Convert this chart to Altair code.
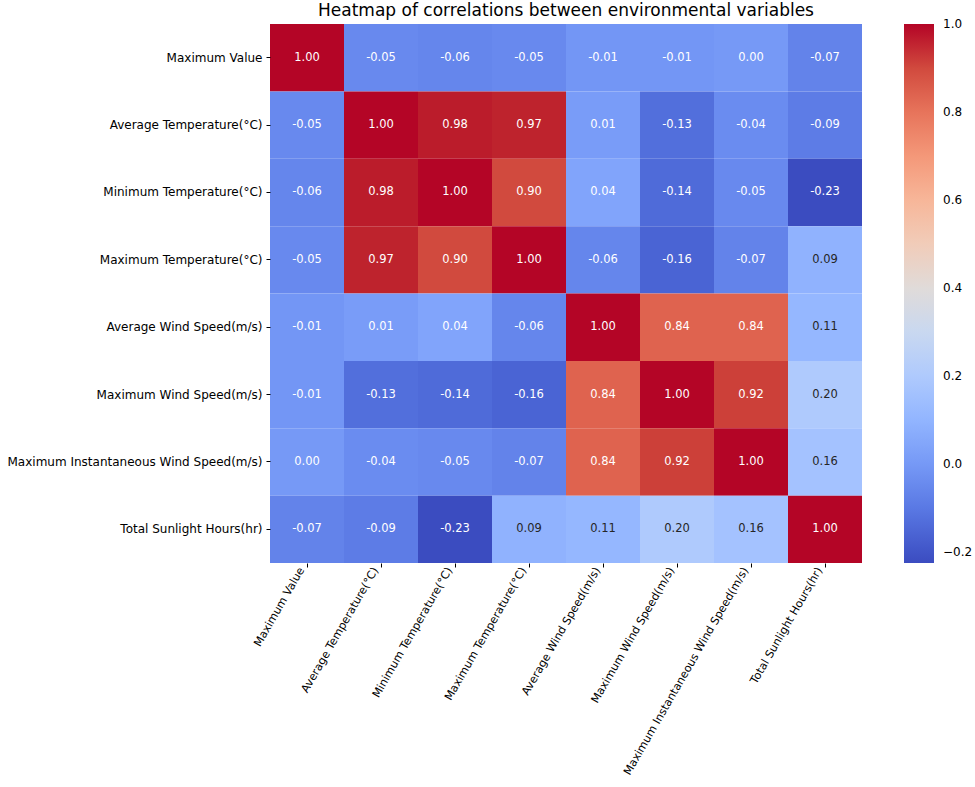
import altair as alt
import pandas as pd

labels = [
    "Maximum Value",
    "Average Temperature(°C)",
    "Minimum Temperature(°C)",
    "Maximum Temperature(°C)",
    "Average Wind Speed(m/s)",
    "Maximum Wind Speed(m/s)",
    "Maximum Instantaneous Wind Speed(m/s)",
    "Total Sunlight Hours(hr)",
]

row0 = [1.00, -0.05, -0.06, -0.05, -0.01, -0.01, 0.00, -0.07]
row1 = [-0.05, 1.00, 0.98, 0.97, 0.01, -0.13, -0.04, -0.09]
row2 = [-0.06, 0.98, 1.00, 0.90, 0.04, -0.14, -0.05, -0.23]
row3 = [-0.05, 0.97, 0.90, 1.00, -0.06, -0.16, -0.07, 0.09]
row4 = [-0.01, 0.01, 0.04, -0.06, 1.00, 0.84, 0.84, 0.11]
row5 = [-0.01, -0.13, -0.14, -0.16, 0.84, 1.00, 0.92, 0.20]
row6 = [0.00, -0.04, -0.05, -0.07, 0.84, 0.92, 1.00, 0.16]
row7 = [-0.07, -0.09, -0.23, 0.09, 0.11, 0.20, 0.16, 1.00]
rows = [row0, row1, row2, row3, row4, row5, row6, row7]

colorbar_ticks = [-0.2, 0.0, 0.2, 0.4, 0.6, 0.8, 1.0]

# matplotlib coolwarm (Moreland) colour stops
coolwarm = [
    "#3b4cc0", "#445acc", "#4d68d7", "#5775e1", "#6282ea", "#6c8ef1", "#779af7", "#82a5fb",
    "#8db0fe", "#98b9ff", "#a3c2ff", "#aec9fd", "#b8d0f9", "#c2d5f4", "#ccd9ee", "#d5dbe6",
    "#dddddd", "#e5d8d1", "#ecd3c5", "#f1ccb8", "#f5c4ac", "#f7bba0", "#f7b194", "#f7a687",
    "#f49a7b", "#f18d6f", "#ec7f63", "#e57058", "#de604d", "#d55042", "#cb3e38", "#c0282f",
    "#b40426",
]
vmin, vmax = -0.226, 1.001
n = len(coolwarm)
domain = [vmin + (vmax - vmin) * i / (n - 1) for i in range(n)]

records = []
for i, r in enumerate(rows):
    for j, v in enumerate(r):
        records.append({
            "row": labels[i],
            "col": labels[j],
            "value": v,
            "text": f"{v:.2f}",
        })
df = pd.DataFrame(records)

base = alt.Chart(df).encode(
    x=alt.X("col:N", sort=labels, title=None,
            axis=alt.Axis(labelAngle=300, labelAlign="right", labelBaseline="middle",
                          labelFontSize=11.2, labelFont="DejaVu Sans", labelColor="#000000",
                          tickColor="#000000", tickSize=4, domain=False, labelPadding=1,
                          labelOffset=-5, labelLimit=400)),
    y=alt.Y("row:N", sort=labels, title=None,
            axis=alt.Axis(labelFontSize=12, labelFont="DejaVu Sans", labelColor="#000000",
                          tickColor="#000000", tickSize=4, domain=False, labelPadding=4,
                          labelLimit=400)),
)

heat = base.mark_rect(strokeWidth=0).encode(
    color=alt.Color("value:Q",
                    scale=alt.Scale(domain=domain, range=coolwarm, clamp=True),
                    legend=alt.Legend(title=None, orient="right", offset=42, padding=0,
                                      gradientLength=539, gradientThickness=30,
                                      values=colorbar_ticks, format=".1f",
                                      labelFontSize=12, labelFont="DejaVu Sans",
                                      labelColor="#000000", labelOffset=9,
                                      gradientStrokeWidth=0)),
)

text = base.mark_text(fontSize=11.5, font="DejaVu Sans").encode(
    text="text:N",
    color=alt.condition("datum.value > 0.05 && datum.value < 0.7",
                        alt.value("#262626"), alt.value("#ffffff")),
)

chart = alt.layer(heat, text).properties(
    width=592,
    height=539,
    title=alt.TitleParams("Heatmap of correlations between environmental variables",
                          fontSize=17, fontWeight="normal", font="DejaVu Sans",
                          color="#000000", anchor="middle", offset=4),
    autosize=alt.AutoSizeParams(type="none"),
    padding={"left": 270, "top": 24, "right": 113, "bottom": 224},
).configure(background="white").configure_view(strokeWidth=0)

chart.save("out.html", embed_options={"renderer": "svg", "actions": False})
